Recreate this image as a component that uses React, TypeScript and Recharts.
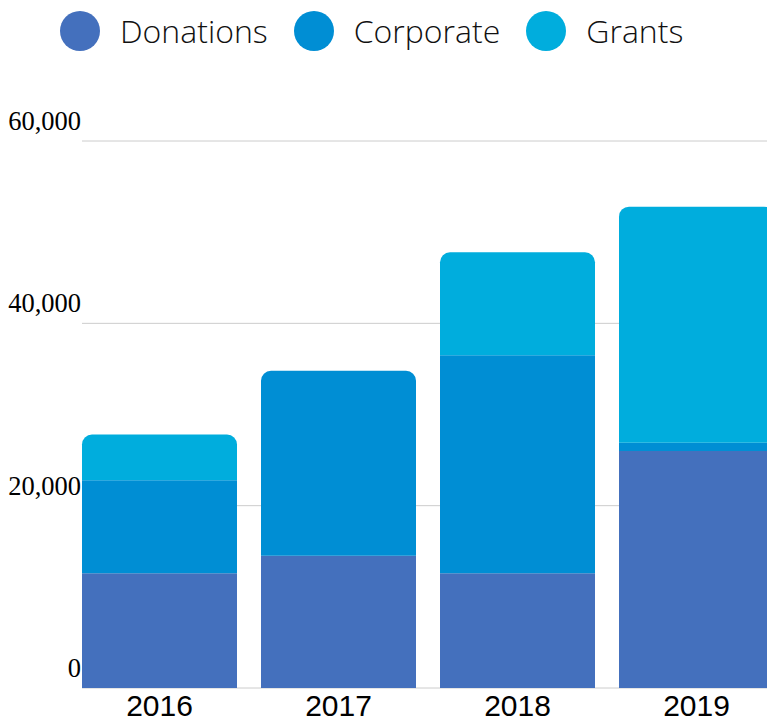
import React from "react";
import { BarChart, Bar, XAxis, YAxis, CartesianGrid, Rectangle } from "recharts";

const YEARS = ["2016", "2017", "2018", "2019"];
const DONATIONS = [12600, 14500, 12600, 26000];
const CORPORATE = [10200, 20300, 23900, 900];
const GRANTS = [5000, 0, 11300, 25900];
const Y_TICKS = [0, 20000, 40000, 60000];

const SERIES = [
  { key: "donations", name: "Donations", color: "#4470BD", values: DONATIONS },
  { key: "corporate", name: "Corporate", color: "#008ED4", values: CORPORATE },
  { key: "grants", name: "Grants", color: "#00ADDD", values: GRANTS },
];

const data = YEARS.map((year, i) => {
  const row: Record<string, string | number> = { year };
  SERIES.forEach((s) => (row[s.key] = s.values[i]));
  return row;
});

// round the top corners only on the highest non-empty segment of each stack
const makeShape = (idx: number) => (props: any) => {
  const above = SERIES.slice(idx + 1);
  const isTop = above.every((s) => !props.payload?.[s.key]);
  return <Rectangle {...props} radius={isTop ? [10, 10, 0, 0] : 0} />;
};

const YTick = ({ x, y, payload }: any) => (
  <text x={x} y={y - 11} textAnchor="end" fontFamily="'Liberation Serif', serif" fontSize={26.5} fill="#000">
    {payload.value.toLocaleString("en-US")}
  </text>
);

const XTick = ({ x, y, payload }: any) => (
  <text x={x} y={y + 28} textAnchor="middle" fontFamily="'Liberation Sans', Arial, sans-serif" fontSize={30} fill="#000">
    {payload.value}
  </text>
);

function Legend() {
  return (
    <div
      style={{
        position: "absolute",
        left: 60,
        top: 11,
        display: "flex",
        alignItems: "center",
        fontFamily: "'Open Sans', sans-serif",
        fontWeight: 300,
        fontSize: 32,
        color: "#111",
      }}
    >
      {SERIES.map((s) => (
        <div key={s.key} style={{ display: "flex", alignItems: "center", marginRight: 26 }}>
          <span style={{ width: 40, height: 40, borderRadius: "50%", background: s.color, marginRight: 20 }} />
          <span style={{ lineHeight: "40px" }}>{s.name}</span>
        </div>
      ))}
    </div>
  );
}

export default function App() {
  return (
    <div style={{ position: "fixed", left: 0, top: 0, width: 767, height: 721, overflow: "hidden", background: "#fff" }}>
      <Legend />
      <BarChart width={786} height={721} data={data} margin={{ top: 141, right: 0, bottom: 0, left: 0 }} barSize={155}>
        <CartesianGrid vertical={false} stroke="#cccccc" />
        <XAxis
          dataKey="year"
          axisLine={false}
          tickLine={false}
          tickSize={0}
          tickMargin={0}
          height={33}
          padding={{ left: -12, right: 0 }}
          tick={<XTick />}
          interval={0}
        />
        <YAxis
          domain={[0, 60000]}
          ticks={Y_TICKS}
          axisLine={false}
          tickLine={false}
          tickSize={0}
          tickMargin={1}
          width={82}
          tick={<YTick />}
          interval={0}
        />
        {SERIES.map((s, i) => (
          <Bar key={s.key} dataKey={s.key} name={s.name} stackId="a" fill={s.color} isAnimationActive={false} shape={makeShape(i)} />
        ))}
      </BarChart>
    </div>
  );
}
